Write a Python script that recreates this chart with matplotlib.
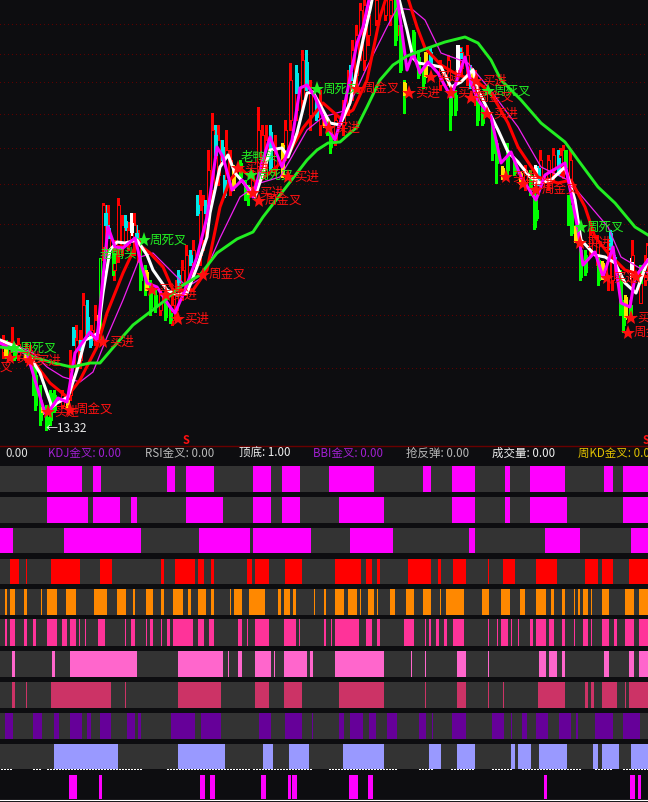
import matplotlib
matplotlib.use("Agg")
import matplotlib.pyplot as plt

plt.rcParams['font.family'] = ['Noto Sans CJK SC', 'DejaVu Sans']

BG = '#0d0d10'

# Moving average lines: [position, level]
ma_long = [[0,347],[20,350],[33,357],[50,362],[67,366],[72,367],[90,363],[100,363],[117,343],[133,325],[150,312],
           [163,302],[180,287],[200,275],[217,253],[237,239],[253,232],[263,217],[280,195],[297,173],[307,160],
           [317,150],[328,143],[340,142],[357,127],[367,107],[380,80],[393,65],[407,56],[428,48],[445,42],[465,37],
           [478,43],[491,60],[501,80],[521,100],[541,123],[565,142],[578,160],[598,187],[615,203],[635,227],[648,235]]
ma_white = [[0,340],[17,347],[30,357],[40,373],[52,407],[57,403],[68,397],[77,370],[85,340],[92,337],[98,333],
            [103,293],[110,250],[117,242],[125,243],[137,240],[147,255],[153,270],[167,290],[177,295],[187,293],
            [197,267],[207,237],[210,213],[220,167],[228,155],[235,173],[243,182],[255,197],[265,167],[270,150],
            [282,148],[288,157],[297,133],[307,93],[313,92],[330,123],[340,125],[350,103],[363,40],[370,10],[373,-5],
            [398,-5],[407,30],[413,58],[418,63],[431,65],[441,67],[451,87],[461,82],[473,70],[478,90],[488,110],
            [498,130],[508,152],[518,162],[530,177],[540,183],[551,180],[565,167],[575,200],[581,240],[595,255],
            [605,257],[615,263],[625,283],[636,293],[648,260]]
ma_fast = [[0,343],[13,350],[27,353],[37,387],[45,413],[50,410],[58,398],[67,402],[75,353],[82,343],[90,332],
           [97,340],[103,277],[108,227],[115,247],[123,248],[135,238],[142,267],[147,283],[157,287],[170,307],
           [175,313],[185,290],[197,257],[207,217],[217,147],[223,157],[232,190],[242,180],[253,197],[262,163],
           [270,137],[282,167],[292,140],[300,88],[307,85],[315,97],[325,122],[335,140],[343,113],[357,43],[363,27],
           [370,-5],[397,-5],[407,70],[413,53],[420,73],[428,62],[438,73],[451,97],[465,57],[471,83],[478,100],
           [491,117],[501,163],[511,152],[521,177],[536,200],[545,175],[565,163],[578,230],[583,265],[595,252],
           [603,277],[613,247],[621,303],[630,307],[635,277],[648,260]]
ma_red = [[0,343],[13,343],[30,357],[50,383],[67,397],[80,380],[97,347],[107,313],[123,273],[137,243],[150,253],
          [163,267],[173,290],[193,290],[207,270],[220,207],[230,180],[240,168],[257,183],[273,170],[287,157],
          [303,128],[323,103],[340,118],[353,110],[367,80],[380,17],[387,-5],[407,-5],[417,27],[425,48],[441,65],
          [458,75],[475,80],[491,93],[508,123],[518,147],[538,177],[558,183],[571,180],[585,207],[595,237],
          [608,253],[625,270],[648,277]]
ma_slow = [[0,343],[20,347],[33,353],[47,367],[63,377],[80,382],[93,372],[107,337],[123,300],[140,257],[153,253],
           [170,270],[187,287],[203,277],[220,238],[240,197],[260,183],[280,177],[290,160],[307,130],[323,117],
           [347,110],[367,67],[387,27],[397,8],[413,10],[425,20],[441,53],[468,63],[488,87],[518,127],[541,167],
           [568,180],[591,207],[608,227],[621,257],[648,273]]

# Candles: [position, high, low, body top, body bottom]
red_candles = [[3,335,358,340,352],[12,327,352,342,350],[18,338,360,344,355],[26,342,362,348,358],[30,345,365,350,360],
               [62,390,408,395,405],[70,350,400,370,395],[76,325,370,340,365],[80,330,368,345,360],[83,293,345,305,340],
               [91,325,345,330,340],[95,305,345,320,340],[103,203,260,205,247],[108,205,255,228,250],
               [114,240,280,250,270],[118,198,262,205,245],[122,215,255,225,245],[128,222,250,230,245],
               [134,213,255,225,240],[138,230,262,240,255],[150,285,310,290,305],[160,290,315,295,310],
               [172,295,325,305,320],[176,280,320,290,310],[182,260,300,270,295],[186,245,295,255,285],
               [193,240,280,250,270],[200,190,265,210,255],[203,195,250,205,240],[208,150,220,170,210],
               [212,113,200,130,190],[218,125,185,140,175],[226,130,190,150,180],[230,150,195,160,185],
               [252,170,195,175,190],[258,107,180,130,170],[262,125,175,135,165],[266,125,170,140,160],
               [275,135,175,150,170],[285,120,160,130,150],[290,63,130,80,120],[296,70,120,85,110],
               [302,50,110,60,100],[310,80,130,90,115],[320,90,135,105,125],[335,115,145,120,140],
               [343,100,135,105,125],[348,70,115,80,105],[352,40,100,50,90],[356,25,85,35,75],[360,3,60,10,50],
               [364,0,70,5,60],[368,5,45,15,35],[376,0,25,0,20],[385,0,20,0,15],[390,0,25,0,15],[398,0,35,5,25],
               [440,60,90,65,85],[448,55,85,60,80],[461,47,75,52,68],[467,45,85,55,75],[475,70,105,75,95],
               [525,165,190,170,185],[540,150,185,160,180],[548,155,190,160,178],[553,148,180,155,170],
               [560,148,175,155,165],[563,145,178,150,170],[570,150,190,160,180],[590,228,255,235,250],
               [597,235,265,240,255],[608,240,290,250,275],[612,250,290,260,280],[632,240,290,255,285],
               [640,275,303,283,303],[645,255,285,260,280],[647,243,275,245,263]]
green_candles = [[6,340,358,345,355],[14,345,360,350,358],[33,360,395,365,380],[35,370,410,375,405],[40,385,425,400,420],
                 [46,405,430,417,428],[50,390,425,393,420],[54,390,412,395,410],[113,250,275,253,263],
                 [140,245,290,267,280],[145,265,295,273,287],[150,280,315,290,307],[155,290,312,295,305],
                 [165,295,320,303,317],[170,305,323,313,320],[240,160,180,163,177],[245,180,200,185,193],
                 [248,185,205,187,193],[327,120,135,125,133],[330,128,153,132,147],[395,0,45,0,40],[400,20,72,25,70],
                 [404,80,113,83,93],[413,30,57,32,55],[418,50,78,57,75],[423,70,88,77,83],[450,90,130,93,115],
                 [455,90,115,95,110],[477,95,125,97,120],[482,105,125,108,123],[492,120,160,127,153],
                 [496,140,183,143,163],[507,143,175,150,170],[514,158,175,162,172],[530,170,195,175,190],
                 [534,190,229,197,227],[536,200,220,210,218],[565,150,170,150,167],[568,195,225,197,217],
                 [571,205,235,207,233],[580,245,280,250,277],[585,250,275,255,272],[598,258,285,260,280],
                 [620,270,315,277,313],[623,300,332,305,325],[630,300,320,305,315],[640,265,285,267,283]]
cyan_candles = [[73,327,345,330,337],[80,340,352,340,350],[87,300,335,317,333],[90,330,347,337,345],
                [105,205,230,213,225],[108,225,240,228,238],[125,215,230,221,227],[136,225,240,233,238],
                [178,270,285,275,283],[190,250,265,255,262],[197,195,215,205,213],[205,200,216,205,213],
                [215,125,158,135,155],[222,140,160,147,158],[224,175,197,180,195],[270,125,170,132,167],
                [296,65,95,73,93],[306,50,90,62,85],[316,100,120,107,117],[350,65,85,72,80],[430,48,65,52,63],
                [460,48,62,53,58],[470,65,88,70,87],[538,166,185,168,180],[558,150,175,158,173],[610,230,250,233,247],
                [614,255,265,257,262]]
yellow_candles = [[5,348,356,349,355],[25,352,358,353,358],[42,405,414,407,412],[67,398,409,400,407],
                  [98,315,342,318,340],[146,270,290,272,288],[233,165,190,168,187],[248,187,194,187,193],
                  [282,143,177,145,175],[324,115,127,117,125],[404,82,95,83,93],[425,52,77,53,75],[472,68,80,70,78],
                  [486,108,115,110,113],[502,166,179,168,177],[520,172,184,173,183],[575,226,242,228,240],
                  [602,261,279,263,277],[625,295,319,297,317]]
white_candles = [[131,213,235,223,232],[457,45,72,45,70],[535,165,185,168,183],[631,258,279,262,277]]
green_thin_high = [[100,258,342]]

grid_levels = [24, 54, 82, 114, 148, 184, 224, 267, 315, 368]

# Signals on the chart: [position, level]
buy_marks = [[48,412],[10,358],[30,361],[103,342],[152,290],[166,295],[178,319],[238,168],[253,193],[288,177],
             [329,128],[409,93],[431,77],[451,93],[476,81],[487,114],[506,177],[523,184],[580,243],[607,278],
             [636,277],[631,318]]
week_gold_marks = [[70,410],[-30,368],[203,275],[259,201],[357,89],[471,98],[536,190],[628,333]]
week_dead_marks = [[14,348],[144,240],[317,89],[488,91],[581,227],[251,175]]
duck_marks = [[100,254],[241,157]]

# Header readouts
header_labels = ['0.00', 'KDJ金叉: 0.00', 'RSI金叉: 0.00', '顶底: 1.00', 'BBI金叉: 0.00', '抢反弹: 0.00', '成交量: 0.00', '周KD金叉: 0.00']
header_x = [5, 48, 145, 239, 313, 406, 492, 578]
header_colors = ['#e0e0e0', '#a01fd0', '#b8b8b8', '#f0f0f0', '#a01fd0', '#b8b8b8', '#f0f0f0', '#e0c000']

# Signal strips: [start, end] of each lit block
strip_1 = [[47,82],[93,101],[167,175],[186,214],[253,271],[282,300],[329,374],[423,431],[452,475],[505,510],[530,565],
           [604,613],[623,648]]
strip_2 = [[47,88],[93,120],[131,137],[186,223],[253,271],[282,300],[339,384],[452,475],[505,510],[530,567],[623,648]]
strip_3 = [[0,13],[64,141],[199,250],[253,311],[350,393],[469,475],[545,580],[631,648]]
strip_4 = [[10,19],[26,27],[51,80],[100,112],[161,164],[175,195],[198,204],[211,214],[247,252],[255,269],[285,302],
           [335,361],[366,372],[377,380],[408,431],[438,441],[453,466],[488,489],[503,515],[536,557],[585,598],
           [602,613],[629,648]]
strip_5 = [[5,7],[10,15],[24,27],[41,42],[47,57],[66,76],[94,107],[117,126],[133,135],[146,153],[161,164],[173,183],
           [188,191],[198,206],[211,214],[230,231],[234,242],[249,265],[278,281],[284,290],[293,296],[314,315],
           [324,326],[335,344],[348,357],[360,361],[368,374],[377,378],[390,395],[406,414],[423,431],[440,441],
           [446,464],[482,489],[501,510],[520,525],[536,546],[551,554],[562,565],[574,575],[578,580],[583,588],
           [591,592],[602,609],[625,634],[639,648]]
strip_6 = [[5,7],[10,15],[24,27],[33,36],[47,57],[62,67],[70,76],[79,80],[85,86],[98,105],[125,126],[131,135],[146,147],
           [150,153],[161,162],[167,170],[173,193],[198,204],[209,214],[238,242],[247,248],[255,269],[284,296],
           [299,300],[324,326],[331,332],[335,359],[366,372],[377,380],[404,414],[425,426],[429,431],[436,439],
           [444,447],[453,464],[488,489],[497,498],[501,508],[511,512],[518,519],[530,533],[536,546],[549,554],
           [562,565],[574,575],[583,588],[591,592],[602,609],[614,617],[625,634],[639,648]]
strip_7 = [[12,15],[52,55],[70,137],[178,223],[228,229],[238,242],[255,271],[274,275],[284,307],[310,313],[335,384],
           [411,412],[425,426],[457,466],[488,489],[539,546],[549,557],[562,565],[604,609],[629,634],[639,648]]
strip_8 = [[12,15],[26,27],[51,111],[125,126],[178,221],[255,269],[284,302],[339,384],[425,426],[457,466],[488,489],
           [503,504],[538,565],[585,588],[591,594],[602,617],[625,626],[629,648]]
strip_9 = [[5,13],[33,42],[54,59],[70,82],[87,91],[100,111],[127,135],[138,141],[171,195],[201,221],[259,271],[285,302],
           [312,313],[339,344],[350,363],[369,376],[387,397],[419,426],[432,433],[452,466],[492,504],[511,512],
           [522,527],[536,548],[559,571],[576,578],[595,613],[623,640]]
strip_10 = [[54,118],[178,225],[263,273],[289,309],[343,384],[429,441],[457,475],[511,515],[518,531],[539,567],
            [593,598],[602,619],[631,648]]
strip_11 = [[69,77],[99,102],[200,205],[210,215],[261,266],[288,291],[292,297],[349,358],[368,373],[544,547],
            [630,635],[638,641]]
dotted_spans = [[1,13],[33,42],[47,141],[167,250],[253,313],[329,397],[419,433],[451,475],[492,511],[522,580],
                [595,613],[623,648]]

strips = [strip_1, strip_2, strip_3, strip_4, strip_5, strip_6, strip_7, strip_8, strip_9, strip_10]
strip_colors = ['#ff00ff', '#ff00ff', '#ff00ff', '#ff0000', '#ff8800', '#ff3399', '#ff66cc', '#cc3366', '#660099', '#9999ff']
strip_tops = [466, 497, 528, 559, 589, 619, 651, 682, 713, 744]
strip_bottoms = [492, 523, 553, 584, 615, 646, 677, 708, 739, 769]

fig = plt.figure(figsize=(6.48, 8.02), dpi=100, facecolor=BG)
ax = fig.add_axes([0, 0, 1, 1], facecolor=BG)
ax.set_xlim(0, 648)
ax.set_ylim(802, 0)
ax.axis('off')

for level in grid_levels:
    ax.plot([0, 648], [level, level], color='#5e0000', lw=0.7, ls=(0, (1, 4)), antialiased=False, zorder=1)


def draw_candles(rows, color, hollow=False):
    for x, high, low, top, bottom in rows:
        ax.vlines(x, high, low, color=color, lw=0.8, antialiased=False, zorder=2)
        ax.bar(x, bottom - top, bottom=top, width=3, facecolor=BG if hollow else color, edgecolor=color,
               lw=0.7, zorder=2.1, antialiased=False)


draw_candles(red_candles, '#ff0000', hollow=True)
draw_candles(green_candles, '#00ff00')
draw_candles(cyan_candles, '#00e6e6')
draw_candles(yellow_candles, '#ffe000')
draw_candles(white_candles, '#ffffff')
for x, top, bottom in green_thin_high:
    ax.bar(x, bottom - top, bottom=top, width=2, facecolor=BG, edgecolor='#00ff00', lw=0.7, zorder=2, antialiased=False)


def draw_line(points, color, width, z):
    ax.plot([p[0] for p in points], [p[1] for p in points], color=color, lw=width, zorder=z, solid_joinstyle='round')


draw_line(ma_slow, '#f020f0', 0.9, 3)
draw_line(ma_red, '#ff0000', 2.2, 3.1)
draw_line(ma_white, '#ffffff', 2.2, 3.2)
draw_line(ma_fast, '#ff00ff', 2.2, 3.3)
draw_line(ma_long, '#22ee22', 2.1, 3.4)


def draw_marks(rows, text, color, z):
    for x, y in rows:
        ax.plot(x, y, marker='*', ms=11, color=color, mew=0, zorder=z)
        ax.text(x + 6, y, text, color=color, fontsize=9, va='center', ha='left', zorder=z)


draw_marks(week_dead_marks, '周死叉', '#22ee22', 5)
draw_marks(week_gold_marks, '周金叉', '#ff1010', 5.1)
draw_marks(buy_marks, '买进', '#ff1010', 5.2)
for x, y in duck_marks:
    ax.text(x, y, '老鸭头', color='#22ee22', fontsize=9, va='center', ha='left', zorder=5)
ax.text(46, 428, '←13.32', color='#e8e8e8', fontsize=8.6, va='center', ha='left', zorder=5)

# Divider and sell marks
ax.plot([0, 648], [446, 446], color='#6a0000', lw=1, zorder=2)
ax.text(186, 440, 'S', color='#ff1010', fontsize=8, fontweight='bold', ha='center', va='center', zorder=5)
ax.text(646, 440, 'S', color='#ff1010', fontsize=8, fontweight='bold', ha='center', va='center', zorder=5)

for label, x, color in zip(header_labels, header_x, header_colors):
    ax.text(x, 453.5, label, color=color, fontsize=8.3, va='center', ha='left', zorder=5)

# Signal strips
for blocks, color, top, bottom in zip(strips, strip_colors, strip_tops, strip_bottoms):
    ax.broken_barh([(0, 648)], (top, bottom - top), facecolors='#333333', antialiased=False, zorder=2)
    ax.broken_barh([(a, b - a) for a, b in blocks], (top, bottom - top), facecolors=color, antialiased=False, zorder=3)

ax.broken_barh([(a, b - a) for a, b in strip_11], (775, 24), facecolors='#ff00ff', antialiased=False, zorder=3)
for a, b in dotted_spans:
    ax.plot([a, b], [768.5, 768.5], color='#ffffff', lw=0.7, ls=(0, (1.5, 1.5)), antialiased=False, zorder=4)
ax.plot([0, 648], [800, 800], color='#ffffff', lw=0.8, zorder=4)

fig.savefig("out.png", dpi=100, facecolor=BG)
